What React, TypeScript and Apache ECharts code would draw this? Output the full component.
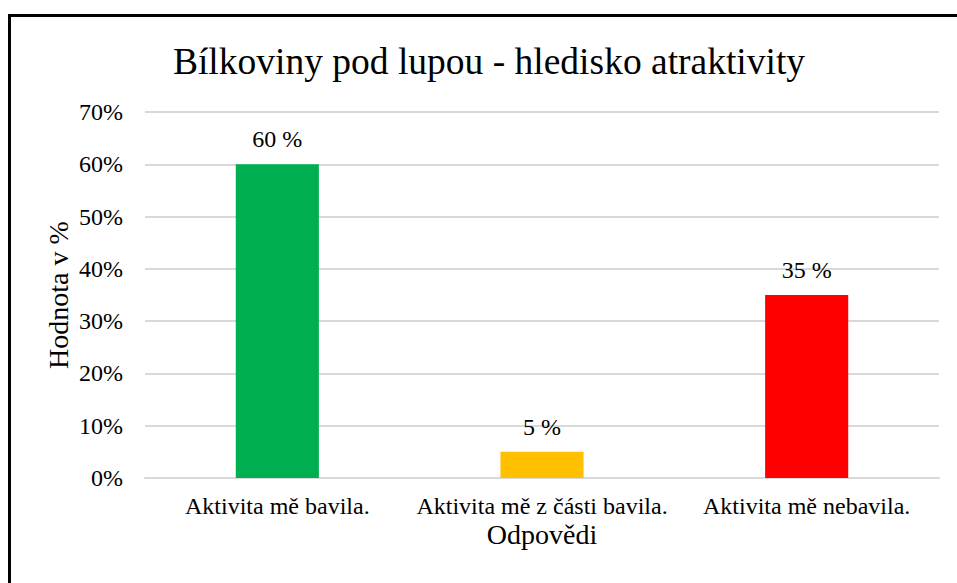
import React, { useEffect, useRef } from "react";
import * as echarts from "echarts";

const categories = ["Aktivita mě bavila.", "Aktivita mě z části bavila.", "Aktivita mě nebavila."];
const values = [60, 5, 35];
const barColors = ["#00B050", "#FFC000", "#FF0000"];
const yTicks = [0, 10, 20, 30, 40, 50, 60, 70];

const FONT = "Liberation Serif";

export default function App() {
  const ref = useRef<HTMLDivElement>(null);
  useEffect(() => {
    document.body.style.margin = "0";
    const chart = echarts.init(ref.current!, null, { renderer: "svg" });
    chart.setOption({
      animation: false,
      backgroundColor: "#ffffff",
      title: {
        text: "Bílkoviny pod lupou - hledisko atraktivity",
        left: 484,
        top: 37,
        textAlign: "center",
        textStyle: { fontFamily: FONT, fontSize: 37.5, fontWeight: "normal", color: "#000" },
      },
      graphic: [
        {
          type: "rect",
          shape: { x: 9.5, y: 15.5, width: 1000, height: 1000 },
          style: { fill: "none", stroke: "#000", lineWidth: 3 },
          silent: true,
        },
      ],
      grid: { left: 145, right: 18, top: 112, bottom: 105 },
      xAxis: {
        type: "category",
        data: categories,
        name: "Odpovědi",
        nameLocation: "middle",
        nameGap: 42,
        nameMoveOverlap: false,
        nameTextStyle: { fontFamily: FONT, fontSize: 28, fontWeight: "normal", color: "#000" },
        axisLine: { show: true, lineStyle: { color: "#D9D9D9", width: 2 } },
        axisTick: { show: false },
        axisLabel: { fontFamily: FONT, fontSize: 24, color: "#000", margin: 16, interval: 0 },
      },
      yAxis: {
        type: "value",
        min: 0,
        max: 70,
        interval: 10,
        name: "Hodnota v %",
        nameLocation: "middle",
        nameGap: 73,
        nameMoveOverlap: false,
        nameRotate: 90,
        nameTextStyle: { fontFamily: FONT, fontSize: 28, fontWeight: "normal", color: "#000" },
        axisLine: { show: false },
        axisTick: { show: false },
        splitLine: { lineStyle: { color: "#D9D9D9", width: 2 } },
        axisLabel: {
          fontFamily: FONT,
          fontSize: 24,
          color: "#000",
          margin: 22,
          formatter: (v: number) => (yTicks.includes(v) ? v + "%" : ""),
        },
      },
      series: [
        {
          type: "bar",
          data: values.map((v, i) => ({ value: v, itemStyle: { color: barColors[i] } })),
          barWidth: "31.4%",
          label: {
            show: true,
            position: "top",
            distance: 13,
            formatter: (p: any) => p.value + " %",
            fontFamily: FONT,
            fontSize: 24,
            color: "#000",
          },
        },
      ],
    });
    return () => chart.dispose();
  }, []);
  return <div ref={ref} style={{ width: 957, height: 583 }} />;
}
